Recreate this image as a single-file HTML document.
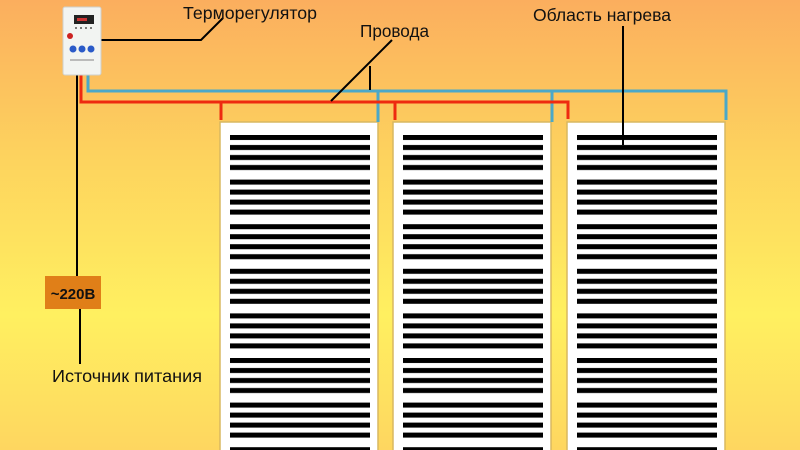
<!DOCTYPE html>
<html><head><meta charset="utf-8"><style>
html,body{margin:0;padding:0;width:800px;height:450px;overflow:hidden}
svg{display:block}
text{font-family:"Liberation Sans","DejaVu Sans",sans-serif}
</style></head><body>
<svg width="800" height="450" xmlns="http://www.w3.org/2000/svg">
<defs>
<linearGradient id="bg" x1="0" y1="0" x2="0" y2="1">
<stop offset="0" stop-color="#fbae5e"/>
<stop offset="0.35" stop-color="#fdd35e"/>
<stop offset="0.7" stop-color="#fff060"/>
<stop offset="1" stop-color="#fed660"/>
</linearGradient>
<pattern id="st" x="0" y="135" width="10" height="44.6" patternUnits="userSpaceOnUse">
<rect x="0" y="0" width="10" height="5" fill="#000"/>
<rect x="0" y="10" width="10" height="5" fill="#000"/>
<rect x="0" y="20" width="10" height="5" fill="#000"/>
<rect x="0" y="30" width="10" height="5" fill="#000"/>
</pattern>
</defs>
<rect width="800" height="450" fill="url(#bg)"/>
<g stroke="#d8b860" stroke-width="1.5" fill="#fff">
<rect x="220" y="122" width="158" height="340"/>
<rect x="393" y="122" width="158" height="340"/>
<rect x="567" y="122" width="158" height="340"/>
</g>
<rect x="230" y="135" width="140" height="320" fill="url(#st)"/>
<rect x="403" y="135" width="140" height="320" fill="url(#st)"/>
<rect x="577" y="135" width="140" height="320" fill="url(#st)"/>
<polyline points="88,75 88,91 726,91 726,120" fill="none" stroke="#4aa8c8" stroke-width="3"/>
<line x1="378" y1="91" x2="378" y2="122" stroke="#4aa8c8" stroke-width="3"/>
<line x1="552" y1="91" x2="552" y2="122" stroke="#4aa8c8" stroke-width="3"/>
<polyline points="81,75 81,102 568,102 568,119" fill="none" stroke="#ee2a10" stroke-width="3"/>
<line x1="221" y1="102" x2="221" y2="120" stroke="#ee2a10" stroke-width="3"/>
<line x1="395" y1="102" x2="395" y2="120" stroke="#ee2a10" stroke-width="3"/>
<g stroke="#000" stroke-width="2" fill="none">
<line x1="77" y1="75" x2="77" y2="277"/>
<line x1="80" y1="308" x2="80" y2="364"/>
<polyline points="101,40 201,40 223,18"/>
<polyline points="370,90 370,66"/>
<line x1="331" y1="101" x2="392" y2="40"/>
<line x1="623" y1="26" x2="623" y2="145"/>
</g>
<rect x="63" y="7" width="38" height="68" rx="2" fill="#f2f4f2" stroke="#cfd0cc"/>
<rect x="74" y="15" width="20" height="9" fill="#222"/>
<rect x="77" y="18" width="10" height="3" fill="#c33"/>
<circle cx="70" cy="36" r="3" fill="#c22"/>
<circle cx="76" cy="28" r="1" fill="#555"/><circle cx="81" cy="28" r="1" fill="#555"/><circle cx="86" cy="28" r="1" fill="#555"/><circle cx="91" cy="28" r="1" fill="#555"/>
<circle cx="73" cy="49" r="3.5" fill="#2a5ac8"/>
<circle cx="82" cy="49" r="3.5" fill="#2a5ac8"/>
<circle cx="91" cy="49" r="3.5" fill="#2a5ac8"/>
<rect x="70" y="59" width="24" height="2" fill="#bbb"/>
<rect x="45" y="276" width="56" height="33" fill="#e07f18"/>
<text x="73" y="299" text-anchor="middle" font-size="15" font-weight="bold" fill="#111">~220В</text>
<text x="183" y="19" font-size="17.5" fill="#111" textLength="134" lengthAdjust="spacingAndGlyphs">Терморегулятор</text>
<text x="360" y="37" font-size="17.5" fill="#111" textLength="69" lengthAdjust="spacingAndGlyphs">Провода</text>
<text x="533" y="21" font-size="17.5" fill="#111" textLength="138" lengthAdjust="spacingAndGlyphs">Область нагрева</text>
<text x="52" y="382" font-size="17.5" fill="#111" textLength="150" lengthAdjust="spacingAndGlyphs">Источник питания</text>
</svg>
</body></html>
